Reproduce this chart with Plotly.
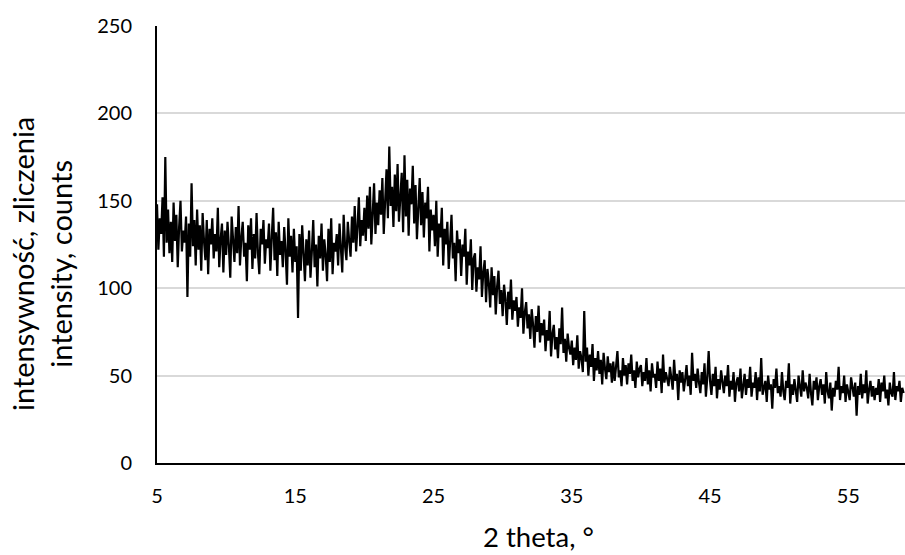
import numpy as np
import plotly.graph_objects as go

# 2-theta scan: 5.0 .. 59.0 deg, step 0.1 deg
theta_start = 5.0
theta_step = 0.1

# intensity (counts), one row per degree of 2-theta (10 readings each)
counts = [
    148,122,140,131,152,118,175,126,145,120,   # 5
    138,115,149,127,142,112,135,150,121,133,   # 6
    126,141,95,137,118,160,124,139,113,145,    # 7
    122,136,110,143,127,116,139,108,134,125,   # 8
    140,117,131,121,146,112,128,137,109,133,   # 9
    119,138,124,106,141,127,115,135,120,147,   # 10
    113,129,138,118,126,104,136,122,140,111,   # 11
    131,117,143,120,108,134,125,139,114,128,   # 12
    123,137,110,129,146,116,132,107,138,119,   # 13
    127,112,135,121,102,140,118,130,109,134,   # 14
    115,124,83,131,110,136,119,104,128,113,    # 15
    133,106,121,139,112,125,101,130,117,137,   # 16
    110,128,119,104,134,115,140,108,126,121,   # 17
    131,113,137,120,109,142,124,116,138,127,   # 18
    118,141,126,147,121,135,152,124,139,130,   # 19
    146,127,153,134,158,125,143,160,131,149,   # 20
    136,156,142,163,131,151,168,140,181,147,   # 21
    158,135,165,144,171,138,153,166,132,176,   # 22
    141,162,130,157,148,170,137,159,128,152,   # 23
    163,136,155,129,149,140,158,121,145,133,   # 24
    142,124,150,118,137,129,146,113,134,125,   # 25
    138,111,129,142,117,126,104,133,120,128,   # 26
    107,125,118,134,102,121,113,128,99,117,    # 27
    120,98,112,105,124,95,109,116,92,111,      # 28
    103,89,112,96,107,85,101,110,91,99,        # 29
    84,102,94,79,98,88,105,82,93,87,           # 30
    95,78,89,83,100,74,86,92,77,85,            # 31
    71,88,79,66,84,75,90,69,80,73,             # 32
    82,64,76,70,87,61,74,79,65,72,             # 33
    60,77,68,89,63,71,58,74,66,62,             # 34
    70,56,66,59,73,54,64,60,52,87,             # 35
    58,66,50,62,55,68,47,60,53,64,             # 36
    51,59,45,63,54,48,61,52,57,46,             # 37
    58,47,55,64,49,53,44,60,50,56,             # 38
    45,57,51,62,47,53,43,58,49,54,             # 39
    56,44,52,47,60,45,53,41,57,49,             # 40
    51,43,58,47,54,40,62,46,52,48,             # 41
    44,55,49,42,59,47,51,36,53,46,             # 42
    52,41,48,56,44,50,39,63,47,51,             # 43
    43,54,46,40,52,45,57,38,49,64,             # 44
    47,39,51,44,55,37,48,42,53,45,             # 45
    40,50,44,56,38,47,42,52,35,46,             # 46
    49,41,54,37,45,51,39,48,43,55,             # 47
    38,46,43,52,36,49,41,60,39,44,             # 48
    47,35,50,42,45,31,48,43,54,40,             # 49
    44,38,52,41,36,47,43,57,34,45,             # 50
    39,48,42,35,50,44,38,53,41,46,             # 51
    43,37,51,40,33,47,42,49,36,44,             # 52
    48,39,45,34,52,41,37,46,30,43,             # 53
    38,47,42,55,36,44,40,50,35,45,             # 54
    41,36,49,43,38,46,27,44,39,51,             # 55
    37,45,40,53,34,42,47,38,44,36,             # 56
    43,39,48,35,46,41,50,37,42,33,             # 57
    46,40,38,52,36,44,41,47,35,43,             # 58
    40,                                        # 59
]

two_theta = np.round(theta_start + theta_step * np.arange(len(counts)), 2)

x_ticks = [5, 15, 25, 35, 45, 55]
y_ticks = [0, 50, 100, 150, 200, 250]

x_title = "2 theta, °"
y_title = "intensywność, zliczenia<br>intensity, counts"

FONT = "Lato, Calibri, Carlito, 'Open Sans', sans-serif"

fig = go.Figure()
fig.add_trace(go.Scatter(
    x=two_theta, y=counts, mode="lines",
    line=dict(color="#000000", width=2.2),
    showlegend=False, hoverinfo="x+y",
))

fig.update_layout(
    width=905, height=555,
    margin=dict(l=157, r=0, t=26, b=92, autoexpand=False),
    paper_bgcolor="white", plot_bgcolor="white",
    font=dict(family=FONT, size=20, color="#000000"),
    xaxis=dict(
        range=[5, 59.1], tickvals=x_ticks, ticktext=[str(v) for v in x_ticks],
        showgrid=False, zeroline=False,
        showline=True, linecolor="#000000", linewidth=2,
        ticks="", ticklabelstandoff=14,
        tickfont=dict(family=FONT, size=20, color="#000000"),
    ),
    yaxis=dict(
        range=[0, 250], tickvals=y_ticks, ticktext=[str(v) for v in y_ticks],
        showgrid=True, gridcolor="#d9d9d9", gridwidth=1.5,
        zeroline=False,
        showline=True, linecolor="#000000", linewidth=2,
        ticks="", ticklabelstandoff=19,
        tickfont=dict(family=FONT, size=20, color="#000000"),
    ),
    annotations=[
        dict(text=x_title, xref="paper", yref="paper",
             x=(538 - 157) / 748, y=(463 - 536) / 437,
             xanchor="center", yanchor="middle", showarrow=False,
             font=dict(family=FONT, size=27.5, color="#000000")),
        dict(text=y_title, xref="paper", yref="paper",
             x=(41 - 157) / 748, y=(463 - 264) / 437,
             xanchor="center", yanchor="middle", showarrow=False,
             textangle=-90,
             font=dict(family=FONT, size=29, color="#000000")),
    ],
)

fig.write_html("out.html", config={"displayModeBar": False},
               post_script="document.body.style.margin='0';")
